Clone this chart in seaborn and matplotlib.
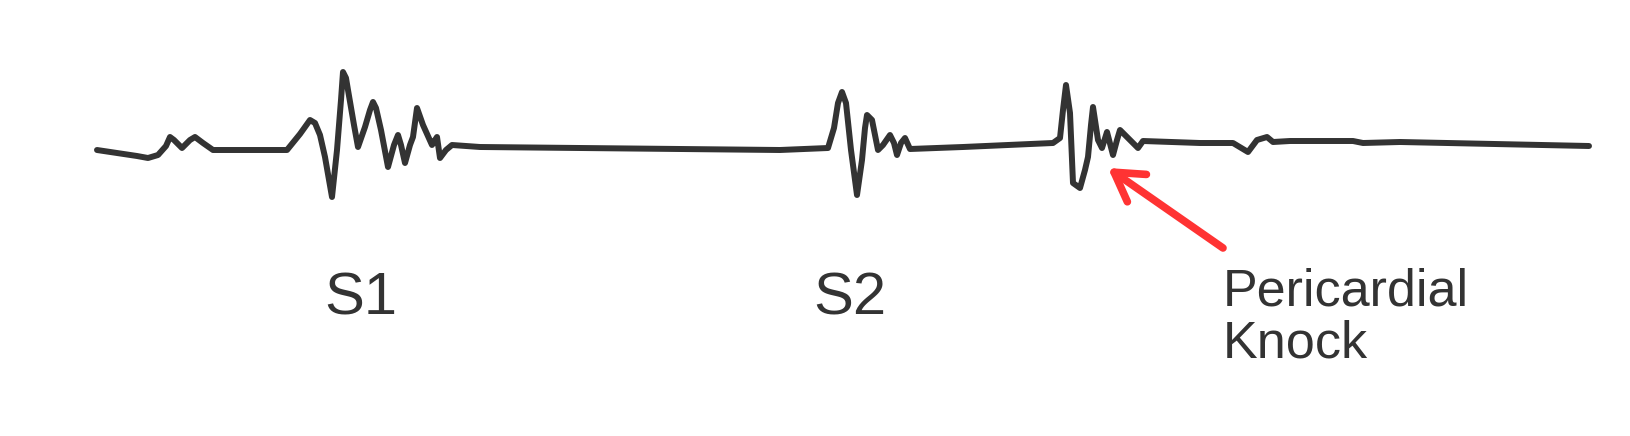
import matplotlib.pyplot as plt
import pandas as pd
import seaborn as sns

# hand-traced phonocardiogram (x = time, y = deflection, screen units, y down)
trace_t = [97, 137, 148, 158, 166, 170, 174, 182, 190, 195, 203, 213, 280, 287, 300, 310, 315, 320,
           325, 332, 337, 341, 343, 346, 348, 354, 358, 365, 370, 373, 376, 381, 388, 394, 398, 401,
           405, 410, 413, 417, 423, 432, 435, 437, 440, 446, 452, 480,
           780, 828, 834, 838, 842, 846, 851, 857, 862, 865, 867, 872, 878, 883, 890, 894,
           897, 901, 905, 910, 963,
           1053, 1060, 1063, 1066, 1070, 1073, 1080, 1085, 1088, 1091, 1093, 1098, 1102, 1107,
           1113, 1117, 1120, 1128, 1138, 1143, 1200, 1233, 1248, 1257, 1267, 1273, 1290, 1353,
           1363, 1400, 1589]
trace_y = [150, 156, 158, 155, 146, 137, 140, 148, 140, 137, 143, 150, 150, 150, 134, 120, 123, 135,
           157, 197, 150, 100, 72, 78, 90, 125, 147, 127, 110, 102, 108, 130, 167, 145, 135, 145,
           163, 145, 137, 108, 125, 145, 140, 137, 158, 150, 145, 147,
           150, 148, 128, 103, 92, 103, 150, 195, 160, 128, 115, 120, 150, 145, 135, 143,
           155, 143, 138, 149, 147,
           143, 138, 110, 85, 113, 183, 188, 170, 157, 125, 107, 140, 148, 132,
           155, 140, 130, 138, 148, 141, 143, 143, 152, 140, 137, 142, 141, 141,
           143, 142, 146]

labels = ['S1', 'S2']
label_x = [361, 850]
knock_lines = ['Pericardial', 'Knock']
knock_baselines = [305, 357]

df = pd.DataFrame({'t': trace_t, 'y': trace_y})

sns.set_style('white')
plt.rcParams['font.family'] = ['Liberation Sans', 'DejaVu Sans']

fig = plt.figure(figsize=(16.31, 4.36), dpi=100)
ax = fig.add_axes([0, 0, 1, 1])
sns.lineplot(data=df, x='t', y='y', sort=False, color='#333333', linewidth=4.3,
             solid_joinstyle='round', solid_capstyle='round', ax=ax)

for lab, x in zip(labels, label_x):
    ax.text(x, 299, lab, fontsize=43, color='#333333', ha='center', va='center')

ax.annotate('', xy=(1108, 168), xytext=(1223, 248),
            arrowprops=dict(arrowstyle='->,head_length=1.0,head_width=0.6', color='#ff3333',
                            lw=5.5, shrinkA=0, shrinkB=0, mutation_scale=20))
for line, yb in zip(knock_lines, knock_baselines):
    ax.text(1223, yb, line, fontsize=37.5, color='#333333', ha='left', va='baseline')

ax.set_xlim(0, 1631)
ax.set_ylim(436, 0)
ax.axis('off')
fig.savefig('out.png', dpi=100)
